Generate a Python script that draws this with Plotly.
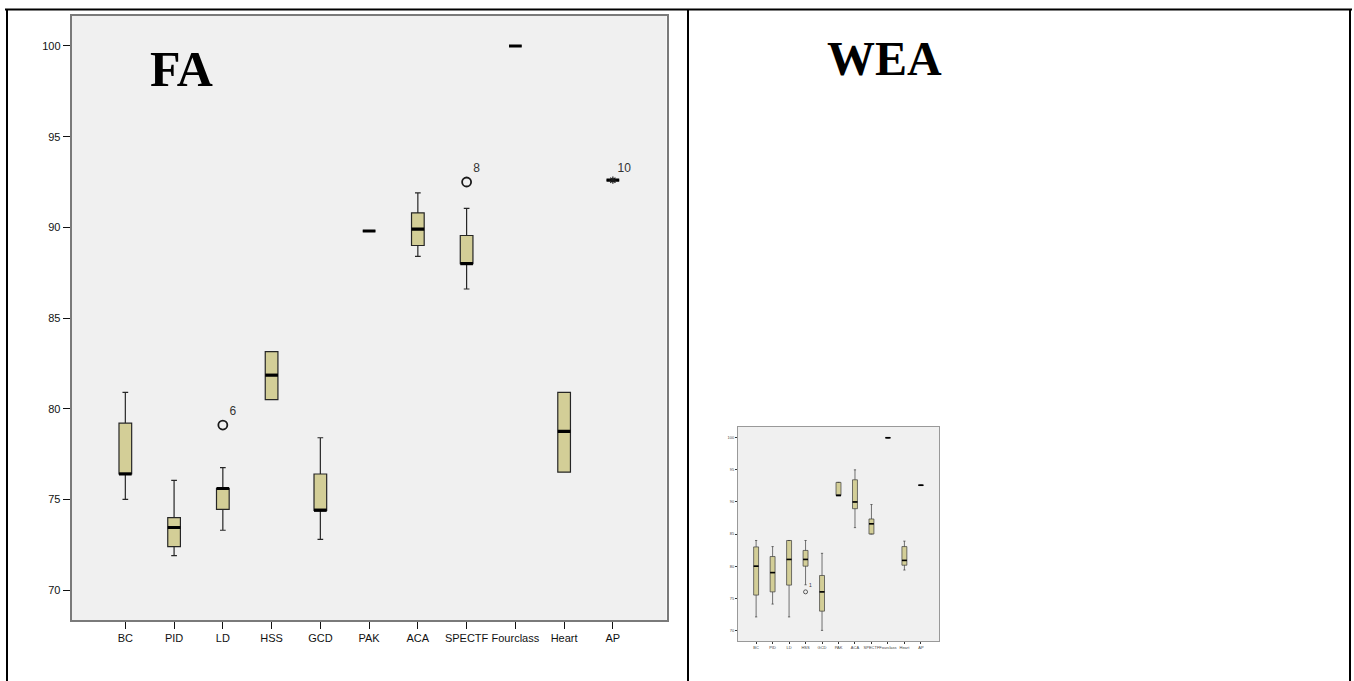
import plotly.graph_objects as go

W, H = 1354, 681

categories = ["BC", "PID", "LD", "HSS", "GCD", "PAK", "ACA", "SPECTF", "Fourclass", "Heart", "AP"]
y_ticks = [70, 75, 80, 85, 90, 95, 100]

# FA panel (left)
fa_min = [75.0, 71.9, 73.3, 80.5, 72.8, 89.8, 88.4, 86.6, 100.0, 76.5, 92.6]
fa_q1 = [76.4, 72.4, 74.45, 80.5, 74.4, 89.8, 89.0, 88.0, 100.0, 76.5, 92.6]
fa_med = [76.4, 73.45, 75.6, 81.85, 74.4, 89.8, 89.9, 88.0, 100.0, 78.75, 92.6]
fa_q3 = [79.2, 74.0, 75.6, 83.15, 76.4, 89.8, 90.8, 89.55, 100.0, 80.9, 92.6]
fa_max = [80.9, 76.05, 76.75, 83.15, 78.4, 89.8, 91.9, 91.05, 100.0, 80.9, 92.6]
fa_out_cat = ["LD", "SPECTF"]
fa_out_val = [79.1, 92.5]
fa_out_lbl = ["6", "8"]
fa_ext_cat = ["AP"]
fa_ext_val = [92.6]
fa_ext_lbl = ["10"]

# WEA panel (small, right)
wea_min = [72.1, 74.1, 72.1, 77.1, 70.0, 91.0, 86.0, 85.0, 100.0, 79.4, 92.6]
wea_q1 = [75.5, 76.0, 77.05, 80.0, 73.0, 91.0, 88.95, 85.0, 100.0, 80.15, 92.6]
wea_med = [80.0, 79.0, 81.05, 81.05, 76.0, 91.0, 90.0, 86.6, 100.0, 80.9, 92.6]
wea_q3 = [83.0, 81.5, 84.0, 82.45, 78.55, 93.05, 93.45, 87.35, 100.0, 83.05, 92.6]
wea_max = [84.0, 83.05, 84.0, 84.0, 82.0, 93.05, 95.0, 89.6, 100.0, 83.9, 92.6]
wea_out_cat = ["HSS"]
wea_out_val = [76.0]
wea_out_lbl = ["1"]

BOX_FILL = "#d3ce97"
SANS = "Liberation Sans, Arial, sans-serif"
SERIF = "Liberation Serif, Times New Roman, serif"
pos = list(range(len(categories)))
idx = {c: i for i, c in enumerate(categories)}


def px_x(p):
    return p / W


def px_y(p):
    return 1 - p / H


def median_lines(meds, w):
    xs, ys = [], []
    for i, m in enumerate(meds):
        xs += [i - w / 2, i + w / 2, None]
        ys += [m, m, None]
    return xs, ys


fig = go.Figure()

# ---- FA panel ----
BW1 = 0.26
fig.add_trace(go.Box(
    x=pos, q1=fa_q1, median=fa_med, q3=fa_q3, lowerfence=fa_min, upperfence=fa_max,
    width=BW1, whiskerwidth=0.45, fillcolor=BOX_FILL,
    line=dict(color="#262626", width=1.2), boxpoints=False,
    xaxis="x", yaxis="y", hoverinfo="skip", showlegend=False))
mx, my = median_lines(fa_med, BW1)
fig.add_trace(go.Scatter(x=mx, y=my, mode="lines", line=dict(color="black", width=3.2),
                         xaxis="x", yaxis="y", hoverinfo="skip", showlegend=False))
fig.add_trace(go.Scatter(
    x=[idx[c] for c in fa_out_cat], y=fa_out_val, mode="markers+text",
    marker=dict(symbol="circle-open", size=9, color="#1a1a1a", line=dict(width=1.8)),
    text=fa_out_lbl, textposition="top right",
    textfont=dict(family=SANS, size=12, color="#333333"),
    xaxis="x", yaxis="y", hoverinfo="skip", showlegend=False))
fig.add_trace(go.Scatter(
    x=[idx[c] for c in fa_ext_cat], y=fa_ext_val, mode="markers+text",
    marker=dict(symbol="asterisk-open", size=6, color="#1a1a1a", line=dict(width=1.2, color="#1a1a1a")),
    text=fa_ext_lbl, textposition="top right",
    textfont=dict(family=SANS, size=12, color="#333333"),
    xaxis="x", yaxis="y", hoverinfo="skip", showlegend=False))

# ---- WEA panel ----
BW2 = 0.30
fig.add_trace(go.Box(
    x=pos, q1=wea_q1, median=wea_med, q3=wea_q3, lowerfence=wea_min, upperfence=wea_max,
    width=BW2, whiskerwidth=0.45, fillcolor=BOX_FILL,
    line=dict(color="#3a3a3a", width=0.7), boxpoints=False,
    xaxis="x2", yaxis="y2", hoverinfo="skip", showlegend=False))
mx2, my2 = median_lines(wea_med, BW2)
fig.add_trace(go.Scatter(x=mx2, y=my2, mode="lines", line=dict(color="black", width=1.6),
                         xaxis="x2", yaxis="y2", hoverinfo="skip", showlegend=False))
fig.add_trace(go.Scatter(
    x=[idx[c] for c in wea_out_cat], y=wea_out_val, mode="markers+text",
    marker=dict(symbol="circle-open", size=4, color="#333", line=dict(width=0.8)),
    text=wea_out_lbl, textposition="top right",
    textfont=dict(family=SANS, size=5, color="#333333"),
    xaxis="x2", yaxis="y2", hoverinfo="skip", showlegend=False))

tickfont_main = dict(family=SANS, size=11, color="#111111")
tickfont_small = dict(family=SANS, size=4, color="#444444")

XR = [-1.1, 11.1]
YR = [68.35, 101.67]

fig.update_layout(
    width=W, height=H, autosize=False,
    margin=dict(l=0, r=0, t=0, b=0),
    paper_bgcolor="white", plot_bgcolor="#f0f0f0",
    xaxis=dict(domain=[px_x(71.7), px_x(666.5)], range=XR, tickvals=pos, ticktext=categories,
               ticks="outside", ticklen=7, tickcolor="#111", tickwidth=1.2, tickangle=0,
               showgrid=False, zeroline=False, showline=True, linecolor="#7a7a7a", linewidth=2,
               mirror=True, tickfont=tickfont_main, anchor="y", fixedrange=True),
    yaxis=dict(domain=[px_y(620), px_y(15.7)], range=YR, tickvals=y_ticks,
               ticks="outside", ticklen=7, tickcolor="#111", tickwidth=1.2,
               showgrid=False, zeroline=False, showline=True, linecolor="#7a7a7a", linewidth=2,
               mirror=True, tickfont=tickfont_main, anchor="x", fixedrange=True),
    xaxis2=dict(domain=[px_x(738), px_x(939)], range=XR, tickvals=pos, ticktext=categories,
                ticks="outside", ticklen=2, tickcolor="#333", tickwidth=0.6, tickangle=0,
                showgrid=False, zeroline=False, showline=True, linecolor="#999", linewidth=1,
                mirror=True, tickfont=tickfont_small, anchor="y2", fixedrange=True),
    yaxis2=dict(domain=[px_y(641), px_y(427)], range=YR, tickvals=y_ticks,
                ticks="outside", ticklen=2, tickcolor="#333", tickwidth=0.6,
                showgrid=False, zeroline=False, showline=True, linecolor="#999", linewidth=1,
                mirror=True, tickfont=tickfont_small, anchor="x2", fixedrange=True),
    annotations=[
        dict(text="<b>FA</b>", x=px_x(181), y=px_y(69), xref="paper", yref="paper",
             showarrow=False, xanchor="center", yanchor="middle",
             font=dict(family=SERIF, size=50, color="black")),
        dict(text="<b>WEA</b>", x=px_x(884), y=px_y(58), xref="paper", yref="paper",
             showarrow=False, xanchor="center", yanchor="middle",
             font=dict(family=SERIF, size=48, color="black")),
    ],
    shapes=[
        dict(type="line", xref="paper", yref="paper", x0=px_x(5), x1=px_x(1352), y0=px_y(9.5), y1=px_y(9.5),
             line=dict(color="black", width=2)),
        dict(type="line", xref="paper", yref="paper", x0=px_x(7), x1=px_x(7), y0=px_y(9.5), y1=0,
             line=dict(color="black", width=2)),
        dict(type="line", xref="paper", yref="paper", x0=px_x(688), x1=px_x(688), y0=px_y(9.5), y1=0,
             line=dict(color="black", width=2)),
        dict(type="line", xref="paper", yref="paper", x0=px_x(1350), x1=px_x(1350), y0=px_y(9.5), y1=0,
             line=dict(color="black", width=2)),
    ],
)

fig.write_html(
    "out.html",
    config={"displayModeBar": False},
    post_script="document.body.style.margin='0';document.body.style.padding='0';document.body.style.overflow='hidden';",
)
